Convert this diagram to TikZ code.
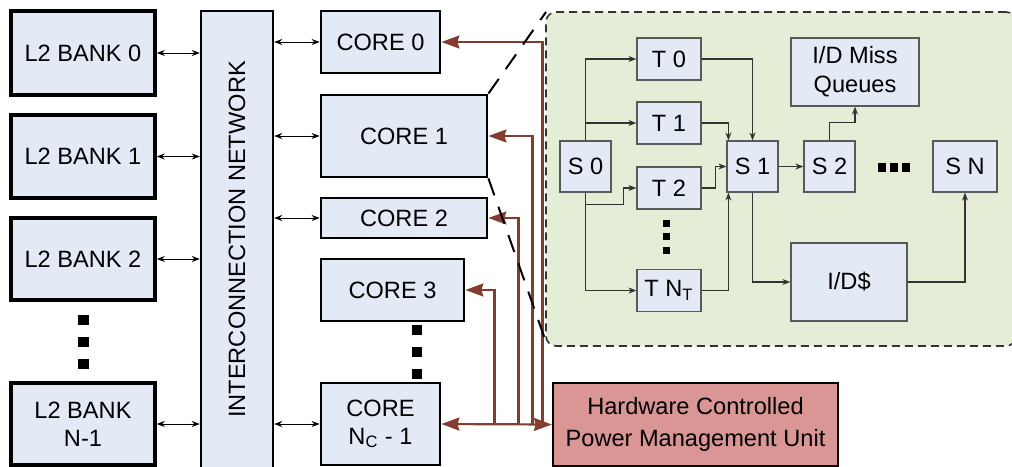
\documentclass[tikz,border=0pt]{standalone}
\usepackage{fontspec}
\setmainfont{Liberation Sans}
\usetikzlibrary{arrows.meta,positioning}

\definecolor{boxblue}{HTML}{E3EAF5}
\definecolor{zoomgreen}{HTML}{E6EDD7}
\definecolor{pmured}{HTML}{D99694}
\definecolor{wirered}{HTML}{843C2F}

\begin{document}
\begin{tikzpicture}[
  x=0.5pt, y=-0.5pt,
  font=\fontsize{11.8}{14}\selectfont,
  bank/.style={rectangle, draw, line width=1.8pt, fill=boxblue, minimum width=72pt, align=center},
  core/.style={rectangle, draw, line width=1.4pt, fill=boxblue, inner sep=2pt, align=center},
  inner/.style={rectangle, draw=black!65, line width=0.6pt, fill=boxblue, inner sep=1pt, align=center},
  link/.style={{Stealth[length=4pt,width=3pt]}-{Stealth[length=4pt,width=3pt]}, line width=0.5pt},
  flow/.style={-{Stealth[length=4pt,width=3pt]}, draw=black!80, line width=0.6pt},
  ctrl/.style={-{Stealth[length=9pt,width=6.5pt,inset=1pt]}, draw=wirered, line width=1.1pt},
  ctrlboth/.style={{Stealth[length=9pt,width=6.5pt,inset=1pt]}-{Stealth[length=9pt,width=6.5pt,inset=1pt]}, draw=wirered, line width=1.1pt},
  zoomline/.style={line width=1pt, dash pattern=on 9pt off 6pt},
]
  \useasboundingbox (0,0) rectangle (1012,466);

  % L2 banks and the network
  \node[bank, minimum height=42pt] (b0) at (83,53) {L2 BANK 0};
  \node[bank, minimum height=41.5pt] (b1) at (83,156.5) {L2 BANK 1};
  \node[bank, minimum height=41pt] (b2) at (83,259) {L2 BANK 2};
  \node[bank, minimum height=41pt] (bn) at (83,424) {L2 BANK\\N-1};
  \node[rectangle, draw, line width=1.2pt, fill=boxblue, rotate=90, minimum width=228.5pt, minimum height=36pt] (net) at (237,239.5) {INTERCONNECTION NETWORK};

  % cores
  \node[core, minimum width=59.5pt, minimum height=31pt] (c0) at (380.5,42) {CORE 0};
  \node[core, minimum width=83pt, minimum height=41pt] (c1) at (404,136) {CORE 1};
  \node[core, minimum width=83pt, minimum height=20pt] (c2) at (404,218) {CORE 2};
  \node[core, minimum width=71.5pt, minimum height=31pt] (c3) at (392.5,290) {CORE 3};
  \node[core, minimum width=59.5pt, minimum height=41pt] (cn) at (380.5,424) {CORE\\N\textsubscript{C} - 1};
  \node[rectangle, draw, line width=1.2pt, fill=pmured, align=center, font=\fontsize{11.8}{16}\selectfont, minimum width=142.5pt, minimum height=41.5pt] (pmu) at (695.5,424.5) {Hardware Controlled\\Power Management Unit};

  \foreach \y in {320,342,364} \fill (78,\y-5) rectangle ++(11,10);
  \foreach \y in {330,352,374} \fill (412,\y-5) rectangle ++(10,10);

  \foreach \b in {b0,b1,b2,bn} \draw[link] (\b.east) -- (\b.east -| net.north);
  \foreach \c in {c0,c1,c2,cn} \draw[link] (\c.west -| net.south) -- (\c.west);

  % power management wires
  \path (cn.east) ++(53,0) coordinate (j3) ++(24,0) coordinate (j2) ++(14,0) coordinate (j1) ++(10,0) coordinate (j0);
  \draw[ctrl] (j3) |- (c3.east);
  \draw[ctrl] (j2) |- (c2.east);
  \draw[ctrl] (j1) |- (c1.east);
  \draw[ctrl] (j0) |- (c0.east);
  \draw[ctrlboth] (cn.east) -- (pmu.west);

  % zoom into core 1
  \draw[zoomline] (c1.north east) -- (781-235,12);
  \draw[zoomline] (c1.south east) -- (546,342);
  \node[rectangle, draw=black!80, line width=0.8pt, dash pattern=on 4pt off 2.5pt, rounded corners=5pt, fill=zoomgreen, minimum width=235pt, minimum height=167pt] (detail) at (781,179) {};

  \node[inner, minimum width=25.5pt, minimum height=25.5pt] (s0) at (585.5,166.5) {S 0};
  \node[inner, minimum width=32pt, minimum height=21pt] (t0) at (669,59) {T 0};
  \node[inner, minimum width=32pt, minimum height=21pt] (t1) at (669,123) {T 1};
  \node[inner, minimum width=32pt, minimum height=21pt] (t2) at (669,188) {T 2};
  \node[inner, minimum width=32pt, minimum height=21pt] (tnt) at (669,290.5) {T N\textsubscript{T}};
  \node[inner, minimum width=25.5pt, minimum height=25.5pt] (s1) at (752.5,166.5) {S 1};
  \node[inner, minimum width=25.5pt, minimum height=25.5pt] (s2) at (829.5,166.5) {S 2};
  \node[inner, minimum width=32pt, minimum height=25.5pt] (sn) at (965,166.5) {S N};
  \node[inner, minimum width=64pt, minimum height=34pt, font=\fontsize{11.8}{14.5}\selectfont] (missq) at (855,72) {I/D Miss\\Queues};
  \node[inner, minimum width=58pt, minimum height=39pt] (idc) at (849,282) {I/D\$};

  \foreach \y in {223.5,236.5,250} \fill (663,\y-3.5) rectangle ++(7,7);
  \foreach \x in {881.5,893.5,905.5} \fill (\x-4,163) rectangle ++(8,9);

  \draw[flow] (s0.north) |- (t0.west);
  \draw[flow] (s0.north |- t1.west) -- (t1.west);
  \draw[flow] (s0.south) |- (tnt.west);
  \draw[flow] (s0.south) ++(0,12) -- ++(38,0) |- (t2.west);
  \draw[flow] (t0.east) -| (s1.north);
  \draw[flow] (t1.east) -| ([xshift=1pt]s1.north west);
  \draw[flow] (t2.east) -- ++(14,0) |- (s1.west);
  \draw[flow] (tnt.east) -| ([xshift=1pt]s1.south west);
  \draw[flow] (s1.east) -- (s2.west);
  \draw[flow] (s1.south) |- (idc.west);
  \draw[flow] (s2.north) -- ++(0,-18) -| (missq.south);
  \draw[flow] (idc.east) -| (sn.south);
\end{tikzpicture}
\end{document}
